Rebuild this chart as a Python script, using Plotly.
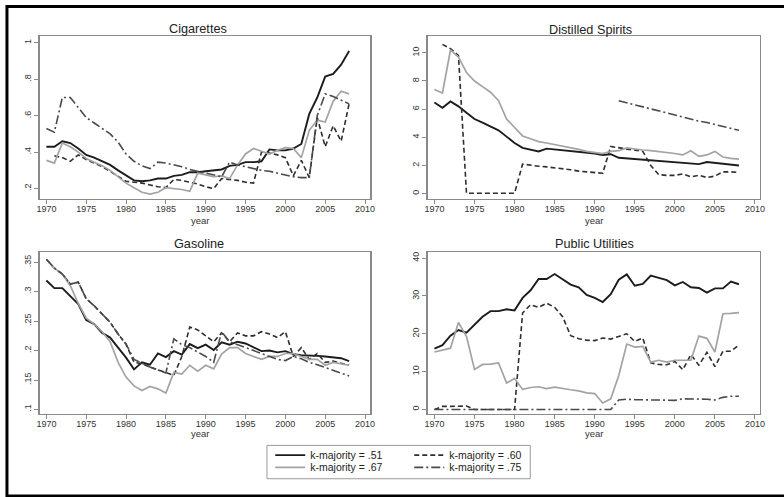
import plotly.graph_objects as go

# ---------------- data ----------------
years = list(range(1970, 2009))

series_labels = ["k-majority = .51", "k-majority = .60", "k-majority = .67", "k-majority = .75"]

cig_51 = [0.43, 0.43, 0.46, 0.45, 0.42, 0.385, 0.37, 0.35, 0.33, 0.30,
          0.27, 0.245, 0.24, 0.245, 0.255, 0.255, 0.27, 0.275, 0.29, 0.29,
          0.295, 0.30, 0.305, 0.325, 0.33, 0.345, 0.345, 0.35, 0.415, 0.41,
          0.41, 0.42, 0.445, 0.61, 0.70, 0.815, 0.83, 0.88, 0.955]
cig_60 = [None, 0.38, 0.37, 0.35, 0.385, 0.36, 0.34, 0.32, 0.295, 0.265,
          0.24, 0.235, 0.23, 0.22, 0.21, 0.205, 0.25, 0.245, 0.235, 0.225,
          0.21, 0.20, 0.255, 0.25, 0.245, 0.235, 0.23, 0.40, 0.395, 0.385,
          0.37, 0.27, 0.355, 0.26, 0.59, 0.43, 0.545, 0.46, 0.665]
cig_67 = [0.355, 0.34, 0.45, 0.43, 0.40, 0.365, 0.345, 0.325, 0.30, 0.265,
          0.23, 0.205, 0.18, 0.17, 0.18, 0.205, 0.20, 0.195, 0.185, 0.285,
          0.275, 0.265, 0.27, 0.255, 0.33, 0.39, 0.42, 0.405, 0.39, 0.41,
          0.425, 0.42, 0.37, 0.52, 0.575, 0.565, 0.68, 0.735, 0.72]
cig_75 = [0.53, 0.51, 0.70, 0.70, 0.645, 0.59, 0.56, 0.53, 0.50, 0.455,
          0.39, 0.35, 0.325, 0.31, 0.345, 0.34, 0.33, 0.32, 0.305, 0.295,
          0.285, 0.275, 0.265, 0.345, 0.33, 0.32, 0.31, 0.30, 0.295, 0.285,
          0.275, 0.265, 0.26, 0.26, 0.60, 0.72, 0.705, 0.685, 0.665]

spi_51 = [6.47, 6.1, 6.55, 6.2, 5.75, 5.3, 5.05, 4.75, 4.5, 4.05,
          3.6, 3.25, 3.1, 3.0, 3.2, 3.15, 3.1, 3.05, 3.0, 2.95,
          2.85, 2.75, 2.8, 2.55, 2.5, 2.45, 2.4, 2.35, 2.3, 2.25,
          2.25, 2.2, 2.1, 2.1, 2.25, 2.2, 2.15, 2.1, 2.0]
spi_60 = [None, 10.6, 10.3, 9.8, 0.03, 0.03, 0.03, 0.03, 0.03, 0.03,
          0.03, 2.1, 2.0, 1.95, 1.9, 1.85, 1.8, 1.7, 1.6, 1.55,
          1.45, 1.45, 3.35, 3.25, 3.2, 3.1, 3.0, 2.0, 1.35, 1.3,
          1.3, 1.4, 1.2, 1.3, 1.15, 1.25, 1.55, 1.55, 1.5]
spi_67 = [7.4, 7.15, 10.2, 9.7, 8.6, 8.0, 7.6, 7.2, 6.6, 5.3,
          4.7, 4.1, 3.9, 3.7, 3.6, 3.5, 3.4, 3.3, 3.15, 3.0,
          2.9, 2.85, 3.0, 3.05, 3.25, 3.15, 3.1, 3.05, 3.0, 2.95,
          2.85, 2.75, 3.05, 2.65, 2.75, 3.0, 2.6, 2.5, 2.45]
spi_75 = [None, None, None, None, None, None, None, None, None, None,
          None, None, None, None, None, None, None, None, None, None,
          None, None, None, 6.6, 6.45, 6.3, 6.15, 6.0, 5.9, 5.75,
          5.55, 5.4, 5.3, 5.15, 5.05, 4.9, 4.75, 4.65, 4.5]

gas_51 = [0.319, 0.306, 0.306, 0.293, 0.279, 0.252, 0.245, 0.23, 0.222, 0.205,
          0.188, 0.168, 0.18, 0.176, 0.195, 0.189, 0.199, 0.193, 0.211, 0.204,
          0.21, 0.201, 0.214, 0.21, 0.215, 0.212, 0.206, 0.199, 0.20, 0.197,
          0.199, 0.194, 0.192, 0.192, 0.191, 0.19, 0.188, 0.187, 0.182]
gas_60 = [0.355, 0.34, 0.33, 0.313, 0.316, 0.288, 0.276, 0.262, 0.248, 0.228,
          0.211, 0.18, 0.178, 0.172, 0.167, 0.162, 0.158, 0.19, 0.24, 0.235,
          0.225, 0.215, 0.23, 0.215, 0.23, 0.225, 0.225, 0.232, 0.228, 0.222,
          0.232, 0.19, 0.205, 0.185, 0.195, 0.18, 0.182, 0.178, 0.175]
gas_67 = [0.355, 0.34, 0.33, 0.31, 0.28, 0.255, 0.245, 0.232, 0.215, 0.18,
          0.155, 0.14, 0.132, 0.139, 0.135, 0.128, 0.163, 0.16, 0.175, 0.165,
          0.175, 0.169, 0.194, 0.205, 0.205, 0.195, 0.19, 0.185, 0.19, 0.19,
          0.195, 0.195, 0.19, 0.185, 0.185, 0.175, 0.18, 0.178, 0.175]
gas_75 = [0.355, 0.34, 0.33, 0.313, 0.316, 0.288, 0.276, 0.262, 0.248, 0.228,
          0.211, 0.185, 0.178, 0.172, 0.167, 0.162, 0.22, 0.21, 0.205, 0.198,
          0.19, 0.18, 0.232, 0.215, 0.21, 0.205, 0.20, 0.195, 0.19, 0.185,
          0.183, 0.19, 0.186, 0.18, 0.176, 0.171, 0.166, 0.162, 0.157]

utl_51 = [16.1, 17, 19.5, 21, 20.3, 22.5, 24.5, 26, 26, 26.5,
          26.2, 29.5, 31.5, 34.5, 34.5, 35.8, 34.5, 33, 32.3, 30.3,
          29.5, 28.4, 30.5, 34.3, 35.7, 32.7, 33.2, 35.4, 34.8, 34.2,
          32.8, 33.7, 32.3, 32.1, 30.9, 32, 32, 33.8, 33.1]
utl_60 = [0, 0.8, 0.8, 0.9, 0.9, 0, 0, 0, 0, 0,
          0, 25.5, 27.7, 27, 28.1, 27, 24.5, 19.5, 18.7, 18.3,
          18.2, 18.9, 18.6, 19.3, 20, 18, 18.9, 12.3, 11.9, 11.8,
          12.7, 10.5, 14.5, 11.7, 15.1, 11.3, 15.4, 15.4, 17]
utl_67 = [15.2, 15.7, 16.2, 23, 19.3, 10.6, 11.9, 12, 12.3, 7,
          8.2, 5.3, 5.8, 6, 5.5, 5.9, 5.5, 5.2, 4.9, 4.4,
          4.2, 1.7, 2.8, 9, 17.3, 16.5, 16.7, 12.5, 13, 12.5,
          13, 13, 13, 19.4, 18.8, 15.2, 25.3, 25.4, 25.6]
utl_75 = [0, 0, 0, 0, 0, 0, 0, 0, 0, 0,
          0, 0, 0, 0, 0, 0, 0, 0, 0, 0,
          0, 0, 0, 2.5, 2.7, 2.6, 2.5, 2.5, 2.5, 2.4,
          2.4, 2.8, 2.8, 2.7, 2.7, 2.5, 3.2, 3.5, 3.5]

x_tickvals = [1970, 1975, 1980, 1985, 1990, 1995, 2000, 2005, 2010]
cig_ticks = [0.2, 0.4, 0.6, 0.8, 1.0]
cig_ticktext = [".2", ".4", ".6", ".8", "1"]
spi_ticks = [0, 2, 4, 6, 8, 10]
spi_ticktext = ["0", "2", "4", "6", "8", "10"]
gas_ticks = [0.1, 0.15, 0.2, 0.25, 0.3, 0.35]
gas_ticktext = [".1", ".15", ".2", ".25", ".3", ".35"]
utl_ticks = [0, 10, 20, 30, 40]
utl_ticktext = ["0", "10", "20", "30", "40"]

# ---------------- layout helpers ----------------
W, H = 784, 497
FONT = "Liberation Sans, Arial, Helvetica, sans-serif"


def fx(p):
    return p / W


def fy(p):
    return 1 - p / H


styles = [
    dict(color="#1c1c1c", width=1.9, dash="solid"),
    dict(color="#2e2e2e", width=1.6, dash="5px,3px"),
    dict(color="#a3a3a3", width=1.7, dash="solid"),
    dict(color="#4a4a4a", width=1.6, dash="9px,3px,2px,3px"),
]
legend_of = ["legend", "legend", "legend2", "legend2"]

panels = [
    dict(title="Cigarettes", data=[cig_51, cig_60, cig_67, cig_75],
         ticks=cig_ticks, ticktext=cig_ticktext, yr=[0.145, 1.038],
         xd=[37, 371], yd=[35, 198], tx=197.5, ty=28.5, yx=199, yy=219.5),
    dict(title="Distilled Spirits", data=[spi_51, spi_60, spi_67, spi_75],
         ticks=spi_ticks, ticktext=spi_ticktext, yr=[-0.35, 11.2],
         xd=[429, 765], yd=[35, 198], tx=594, ty=29, yx=597, yy=219.5),
    dict(title="Gasoline", data=[gas_51, gas_60, gas_67, gas_75],
         ticks=gas_ticks, ticktext=gas_ticktext, yr=[0.092, 0.3665],
         xd=[37, 371], yd=[252, 414], tx=198, ty=243.3, yx=199, yy=433),
    dict(title="Public Utilities", data=[utl_51, utl_60, utl_67, utl_75],
         ticks=utl_ticks, ticktext=utl_ticktext, yr=[-1.25, 41.5],
         xd=[429, 765], yd=[252, 414], tx=597.5, ty=243.3, yx=597, yy=433),
]

fig = go.Figure()
annotations = []
layout_axes = {}

for i, p in enumerate(panels):
    suf = "" if i == 0 else str(i + 1)
    for k, vals in enumerate(p["data"]):
        fig.add_trace(go.Scatter(
            x=years, y=vals, mode="lines", name=series_labels[k],
            line=styles[k], xaxis="x" + suf, yaxis="y" + suf,
            showlegend=(i == 0), legend=legend_of[k], connectgaps=False,
            hoverinfo="skip"))
    axis_common = dict(showline=True, mirror=True, linecolor="#8a8a8a", linewidth=1.3,
                       ticks="outside", ticklen=4, tickwidth=1, tickcolor="#8a8a8a",
                       showgrid=False, zeroline=False,
                       tickfont=dict(family=FONT, size=9, color="#333333"))
    layout_axes["xaxis" + suf] = dict(
        axis_common, domain=[fx(p["xd"][0]), fx(p["xd"][1])],
        anchor="y" + suf, range=[1969.15, 2010.65],
        tickmode="array", tickvals=x_tickvals, ticklabelstandoff=-3)
    layout_axes["yaxis" + suf] = dict(
        axis_common, domain=[fy(p["yd"][1]), fy(p["yd"][0])],
        anchor="x" + suf, range=p["yr"], tickmode="array",
        tickvals=p["ticks"], ticktext=p["ticktext"], tickangle=-90)
    annotations.append(dict(text=p["title"], x=fx(p["tx"]), y=fy(p["ty"]),
                            xref="paper", yref="paper", showarrow=False,
                            xanchor="center", yanchor="middle",
                            font=dict(family=FONT, size=12.7, color="#222222")))
    annotations.append(dict(text="year", x=fx(p["yx"]), y=fy(p["yy"]),
                            xref="paper", yref="paper", showarrow=False,
                            xanchor="center", yanchor="middle",
                            font=dict(family=FONT, size=9.5, color="#333333")))

legend_common = dict(orientation="h", xanchor="left", yanchor="top",
                     bgcolor="rgba(0,0,0,0)", borderwidth=0,
                     entrywidth=94, entrywidthmode="pixels",
                     font=dict(family=FONT, size=10.5, color="#222222"),
                     itemclick=False, itemdoubleclick=False)

fig.update_layout(
    width=W, height=H, autosize=False,
    margin=dict(l=0, r=0, t=0, b=0),
    paper_bgcolor="white", plot_bgcolor="white",
    annotations=annotations,
    legend=dict(legend_common, x=fx(270), y=fy(440.5)),
    legend2=dict(legend_common, x=fx(270), y=fy(452.8)),
    shapes=[
        dict(type="rect", xref="paper", yref="paper",
             x0=fx(266.7), x1=fx(532.7), y0=fy(478.7), y1=fy(445.3),
             line=dict(color="#999999", width=1)),
        dict(type="rect", xref="paper", yref="paper",
             x0=fx(4), x1=1.05, y0=fy(496), y1=fy(5.5),
             line=dict(color="black", width=3)),
    ],
    **layout_axes,
)

fig.write_html("out.html",
               config={"displayModeBar": False, "staticPlot": True},
               post_script="document.body.style.margin='0px';"
                           "document.body.style.overflow='hidden';")
